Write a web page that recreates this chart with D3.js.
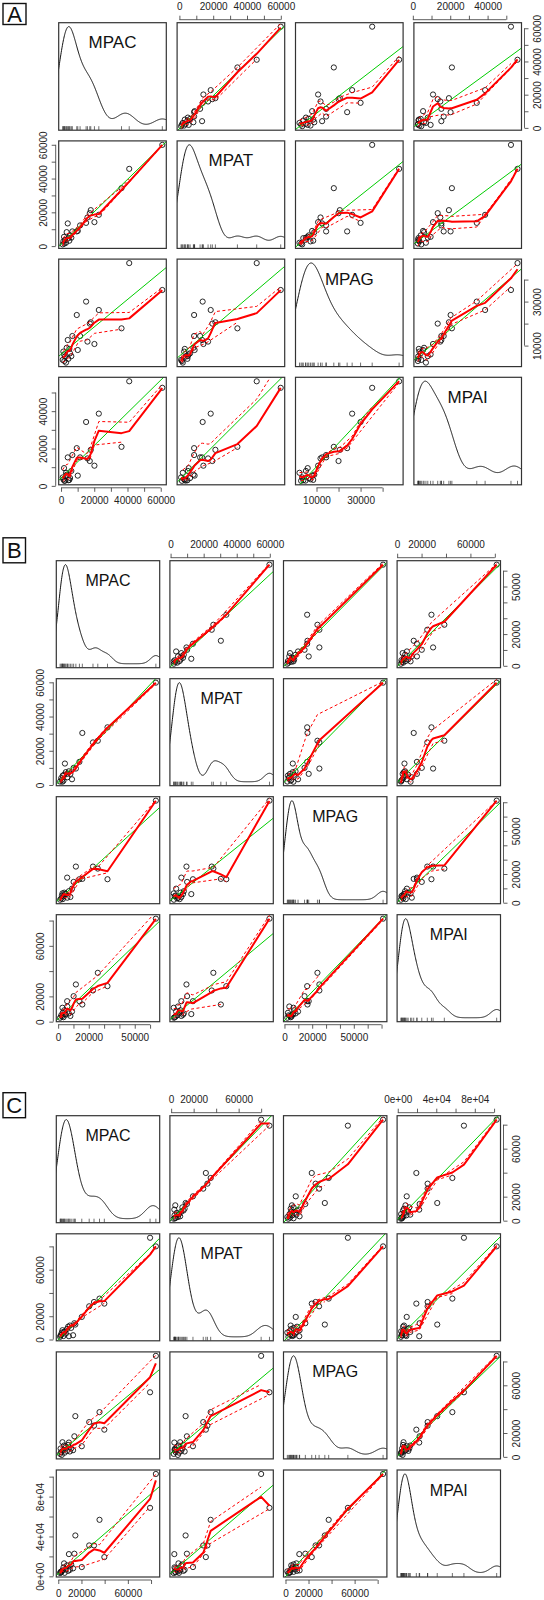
<!DOCTYPE html>
<html><head><meta charset="utf-8">
<script src="https://cdn.jsdelivr.net/npm/d3@7"></script>
<style>body{margin:0;background:#fff}</style>
</head><body>
<svg id="chart" width="544" height="1600"></svg>
<script>
// ---------- DATA ----------
const varNames = ["MPAC", "MPAT", "MPAG", "MPAI"];

// Matrix A
const A_MPAC = [60950, 41040, 36400, 22740, 15090, 17900, 15900, 20100, 17300, 9470, 11470, 6820, 4040, 10080, 1400, 2400, 1000, 3400, 5430, 4430, 3000, 1800, 5000, 2000, 6200];
const A_MPAT = [59940, 45740, 34320, 18520, 13760, 21300, 16960, 14200, 19500, 8700, 12250, 8700, 13430, 9000, 2800, 3700, 1000, 8280, 6330, 4730, 2000, 5500, 3200, 1500, 5000];
const A_MPAG = [35270, 47500, 17860, 26180, 30000, 20590, 11820, 10730, 20000, 23910, 14360, 14360, 12550, 8000, 7270, 5000, 3500, 9000, 6500, 4000, 2270, 6000, 8500, 3000, 5200];
const A_MPAI = [52500, 56000, 20900, 38670, 34200, 19300, 14700, 10800, 13300, 20200, 15250, 16500, 15250, 5480, 3500, 2800, 4500, 6000, 4200, 3000, 7000, 9500, 3200, 2700, 8000];
const A_tickValues = [
  [0, 10000, 20000, 30000, 40000, 50000, 60000],
  [0, 10000, 20000, 30000, 40000, 50000, 60000],
  [10000, 20000, 30000, 40000],
  [0, 10000, 20000, 30000, 40000, 50000]];
const A_tickLabels = [
  ["0", "", "20000", "", "40000", "", "60000"],
  ["0", "", "20000", "", "40000", "", "60000"],
  ["10000", "", "30000", ""],
  ["0", "", "20000", "", "40000", ""]];

// Matrix B
const B_MPAC = [63790, 32210, 25890, 22740, 15790, 13890, 11580, 10100, 9050, 5890, 4420, 1300, 2000, 2500, 3000, 3500, 4000, 5000, 6000, 7000, 2800, 8000];
const B_MPAT = [59800, 33700, 25870, 24890, 30400, 13520, 9600, 10000, 3350, 6500, 12530, 2000, 4000, 3000, 5500, 2500, 6000, 7500, 4500, 8000, 1900, 6500];
const B_MPAG = [71100, 16360, 23780, 25180, 16600, 16360, 25180, 14480, 9790, 17480, 6000, 2070, 3000, 5000, 2500, 4500, 7000, 6000, 3500, 8000, 6500, 4000];
const B_MPAI = [81500, 28100, 38650, 24680, 13570, 16200, 29440, 20170, 8000, 16200, 6000, 3100, 5000, 4000, 7000, 3500, 9000, 5500, 12000, 6500, 11000, 4500];
const B_tickValues = [
  [0, 10000, 20000, 30000, 40000, 50000, 60000],
  [0, 10000, 20000, 30000, 40000, 50000, 60000],
  [0, 10000, 20000, 30000, 40000, 50000, 60000, 70000],
  [0, 20000, 40000, 60000, 80000]];
const B_tickLabels = [
  ["0", "", "20000", "", "", "50000", ""],
  ["0", "", "20000", "", "40000", "", "60000"],
  ["0", "", "20000", "", "", "50000", "", ""],
  ["0", "20000", "", "60000", ""]];

// Matrix C
const C_MPAC = [84170, 79170, 39720, 35560, 30830, 26670, 20280, 14720, 13890, 9170, 12780, 11110, 3610, 1600, 2500, 3000, 4500, 5500, 6500, 7500, 8500, 2000, 5000, 10000];
const C_MPAT = [80000, 87400, 30850, 35130, 32230, 28540, 19400, 12850, 14000, 2830, 3680, 10000, 8000, 2300, 4000, 6000, 3000, 7000, 5000, 9000, 11000, 3500, 6500, 12000];
const C_MPAG = [84700, 54150, 22800, 37500, 26140, 29160, 8900, 34150, 17240, 12000, 5580, 7000, 12250, 2500, 4000, 1600, 6000, 3500, 8000, 5000, 10000, 7000, 9500, 4500];
const C_MPAI = [102700, 68700, 19300, 56700, 31000, 31000, 9300, 41000, 22700, 22300, 8000, 12000, 6000, 3300, 4000, 5000, 9000, 3500, 7000, 11000, 5500, 4500, 13000, 6500];
const C_tickValues = [
  [0, 20000, 40000, 60000, 80000],
  [0, 20000, 40000, 60000, 80000],
  [0, 20000, 40000, 60000, 80000],
  [0, 20000, 40000, 60000, 80000, 100000]];
const C_tickLabels = [
  ["0", "20000", "", "60000", ""],
  ["0", "20000", "", "60000", ""],
  ["0", "20000", "", "60000", ""],
  ["0e+00", "", "4e+04", "", "8e+04", ""]];

// ---------- LAYOUT ----------
const FONT = "'Liberation Sans', Arial, Helvetica, sans-serif";
const matrices = [
  {tag: "A", vars: [A_MPAC, A_MPAT, A_MPAG, A_MPAI], ticks: A_tickValues, labels: A_tickLabels,
   x0: 58.7, colStep: 118.4, w: 107.6, y0: 22.7, rowStep: 118.2, h: 107.5,
   tagBox: [3, 3.5, 23, 21], nameSize: 17},
  {tag: "B", vars: [B_MPAC, B_MPAT, B_MPAG, B_MPAI], ticks: B_tickValues, labels: B_tickLabels,
   x0: 56.3, colStep: 113.6, w: 103.4, y0: 560.7, rowStep: 118, h: 107,
   tagBox: [3, 537.8, 22.5, 25], nameSize: 16},
  {tag: "C", vars: [C_MPAC, C_MPAT, C_MPAG, C_MPAI], ticks: C_tickValues, labels: C_tickLabels,
   x0: 56.3, colStep: 113.6, w: 103.4, y0: 1115.7, rowStep: 118.1, h: 107,
   tagBox: [3, 1092.7, 22.5, 25], nameSize: 16}
];

// ---------- STATS ----------
function solve(M, b) {
  const n = b.length;
  const A = M.map((r, i) => r.concat([b[i]]));
  const scale = Math.abs(M[0][0]) + 1e-300;
  for (let c = 0; c < n; c++) {
    let p = c;
    for (let r = c + 1; r < n; r++) if (Math.abs(A[r][c]) > Math.abs(A[p][c])) p = r;
    if (Math.abs(A[p][c]) < 1e-7 * scale) return null;
    [A[c], A[p]] = [A[p], A[c]];
    for (let r = 0; r < n; r++) {
      if (r === c) continue;
      const f = A[r][c] / A[c][c];
      for (let k = c; k <= n; k++) A[r][k] -= f * A[c][k];
    }
  }
  return A.map((r, i) => r[n] / r[i]);
}

// local polynomial fit at x0: returns [value, slope]
function localFit(xs, ys, rw, x0, q, degree) {
  const n = xs.length;
  const d = xs.map(x => Math.abs(x - x0));
  const ds = d.slice().sort((a, b) => a - b);
  let h = ds[Math.min(q, n) - 1];
  if (h <= 0) h = 1e-9;
  h *= 1.001;
  const S = [0, 0, 0, 0, 0], T = [0, 0, 0];
  for (let j = 0; j < n; j++) {
    const r = d[j] / h;
    if (r >= 1) continue;
    const w = Math.pow(1 - r * r * r, 3) * rw[j];
    if (w <= 0) continue;
    const u = (xs[j] - x0) / h;
    let up = 1;
    for (let k = 0; k < 5; k++) { S[k] += w * up; if (k < 3) T[k] += w * up * ys[j]; up *= u; }
  }
  let c = null;
  if (degree >= 2) c = solve([[S[0], S[1], S[2]], [S[1], S[2], S[3]], [S[2], S[3], S[4]]], [T[0], T[1], T[2]]);
  if (!c && degree >= 1) c = solve([[S[0], S[1]], [S[1], S[2]]], [T[0], T[1]]);
  if (c) return [c[0], c[1] / h];
  return [S[0] > 0 ? T[0] / S[0] : d3.mean(ys), 0];
}

// loess with kd-tree vertices + (monotone-limited) cubic Hermite interpolation, xs sorted ascending
function loess(xs, ys, span, degree, iters) {
  const n = xs.length;
  const q = Math.max(1, Math.floor(n * span));
  const fc = Math.max(1, Math.floor(n * span * 0.2));
  const rng = xs[n - 1] - xs[0];
  const mu = 0.005 * Math.max(rng, 1e-10 * Math.max(Math.abs(xs[0]), Math.abs(xs[n - 1])) + 1e-30);
  const cells = [];
  (function build(l, u, a, b) {
    if (u - l + 1 <= fc || l === u) { cells.push([a, b]); return; }
    const m = Math.floor((l + u) / 2);
    const v = (xs[m] + xs[m + 1]) / 2;
    build(l, m, a, v); build(m + 1, u, v, b);
  })(0, n - 1, xs[0] - mu, xs[n - 1] + mu);
  const verts = Array.from(new Set(cells.flat())).sort((a, b) => a - b);
  let rw = new Array(n).fill(1);
  let fit = new Array(n).fill(0);
  let vfit = null;
  const evalAt = x => {
    const c = cells.find(c => x >= c[0] && x <= c[1]) || cells[cells.length - 1];
    const [a, b] = c;
    const fa = vfit.get(a), fb = vfit.get(b);
    const L = b - a, t = (x - a) / L;
    const s = (fb[0] - fa[0]) / L;
    let ma = 0, mb = 0;
    if (s !== 0) {
      let al = Math.max(0, fa[1] / s), be = Math.max(0, fb[1] / s);
      const t2 = al * al + be * be;
      if (t2 > 9) { const tau = 3 / Math.sqrt(t2); al *= tau; be *= tau; }
      ma = al * s; mb = be * s;
    }
    return fa[0] * (2 * t ** 3 - 3 * t ** 2 + 1) + fb[0] * (-2 * t ** 3 + 3 * t ** 2)
      + L * (ma * (t ** 3 - 2 * t ** 2 + t) + mb * (t ** 3 - t ** 2));
  };
  for (let it = 0; it < iters; it++) {
    vfit = new Map(verts.map(v => [v, localFit(xs, ys, rw, v, q, degree)]));
    fit = xs.map(evalAt);
    if (it < iters - 1) {
      const res = ys.map((y, j) => y - fit[j]);
      const m = d3.median(res.map(Math.abs));
      if (!(m > 0)) break;
      rw = res.map(r => { const u = r / (6 * m); return Math.abs(u) < 1 ? Math.pow(1 - u * u, 2) : 0; });
    }
  }
  return fit;
}

function linreg(xs, ys) {
  const mx = d3.mean(xs), my = d3.mean(ys);
  let sxy = 0, sxx = 0;
  xs.forEach((x, i) => { sxy += (x - mx) * (ys[i] - my); sxx += (x - mx) * (x - mx); });
  const b = sxy / sxx;
  return {a: my - b * mx, b};
}

function density(vals) {
  const n = vals.length;
  const s = d3.deviation(vals);
  const sorted = vals.slice().sort((a, b) => a - b);
  const iqr = d3.quantileSorted(sorted, 0.75) - d3.quantileSorted(sorted, 0.25);
  let lo = Math.min(s, iqr / 1.34);
  if (!(lo > 0)) lo = s;
  const bw = 0.9 * lo * Math.pow(n, -0.2);
  const from = sorted[0] - 3 * bw, to = sorted[n - 1] + 3 * bw;
  const pts = [];
  for (let k = 0; k < 512; k++) {
    const x = from + (to - from) * k / 511;
    let sum = 0;
    for (const v of vals) { const z = (x - v) / bw; sum += Math.exp(-0.5 * z * z); }
    pts.push([x, sum / (n * bw * Math.sqrt(2 * Math.PI))]);
  }
  return pts;
}

// ---------- DRAW ----------
const svg = d3.select("#chart");
svg.append("rect").attr("width", 544).attr("height", 1600).attr("fill", "#fff");
let clipId = 0;

function drawAxis(g, scale, side, ticks, labels, pos) {
  const gen = {top: d3.axisTop, bottom: d3.axisBottom, left: d3.axisLeft, right: d3.axisRight}[side];
  const axis = gen(scale).tickValues(ticks).tickSizeInner(4).tickSizeOuter(0).tickPadding(5.5)
    .tickFormat((v, i) => labels[i]);
  const horiz = side === "top" || side === "bottom";
  const ag = g.append("g")
    .attr("transform", horiz ? `translate(0,${pos})` : `translate(${pos},0)`)
    .attr("font-family", FONT).attr("font-size", 8.5)
    .call(axis);
  ag.select(".domain").remove();
  const a = scale(ticks[0]), b = scale(ticks[ticks.length - 1]);
  ag.append("line")
    .attr("x1", horiz ? a : 0).attr("x2", horiz ? b : 0)
    .attr("y1", horiz ? 0 : a).attr("y2", horiz ? 0 : b)
    .attr("stroke", "#333").attr("stroke-width", 0.8);
  ag.selectAll(".tick line").attr("stroke", "#333").attr("stroke-width", 0.8);
  ag.selectAll(".tick text").attr("fill", "#222");
  if (!horiz) {
    ag.selectAll(".tick text")
      .attr("x", 0).attr("dy", "0.35em").attr("text-anchor", "middle")
      .attr("transform", `translate(${side === "left" ? -12.5 : 12.5},0) rotate(-90)`);
  }
}

matrices.forEach(M => {
  const g = svg.append("g");
  const [tx, ty, tw, th] = M.tagBox;
  g.append("rect").attr("x", tx).attr("y", ty).attr("width", tw).attr("height", th)
    .attr("fill", "none").attr("stroke", "#111").attr("stroke-width", 1.4);
  g.append("text").attr("x", tx + tw / 2).attr("y", ty + th / 2 + 8)
    .attr("text-anchor", "middle").attr("font-family", FONT).attr("font-size", 22)
    .attr("fill", "#111").text(M.tag);

  const domains = M.vars.map(v => {
    const [lo, hi] = d3.extent(v); const r = hi - lo;
    return [lo - 0.04 * r, hi + 0.04 * r];
  });
  const L = j => M.x0 + j * M.colStep;
  const T = i => M.y0 + i * M.rowStep;
  const xS = j => d3.scaleLinear().domain(domains[j]).range([L(j), L(j) + M.w]);
  const yS = i => d3.scaleLinear().domain(domains[i]).range([T(i) + M.h, T(i)]);

  for (let i = 0; i < 4; i++) {
    for (let j = 0; j < 4; j++) {
      const x = xS(j), y = yS(i);
      const id = "clip" + (clipId++);
      g.append("clipPath").attr("id", id).append("rect")
        .attr("x", L(j)).attr("y", T(i)).attr("width", M.w).attr("height", M.h);
      const pg = g.append("g");
      const cg = pg.append("g").attr("clip-path", `url(#${id})`);
      if (i === j) {
        const vals = M.vars[i];
        const dens = density(vals);
        const [mn, mx] = d3.extent(vals);
        const [dmin, dmax] = d3.extent(dens, d => d[1]);
        const line = d3.line().x(d => x(d[0])).y(d => y(mn + d[1] * (mx - mn) / (dmax - dmin)));
        cg.append("path").attr("d", line(dens)).attr("fill", "none")
          .attr("stroke", "#111").attr("stroke-width", 1);
        cg.selectAll("line.rug").data(vals).join("line").attr("class", "rug")
          .attr("x1", d => x(d)).attr("x2", d => x(d))
          .attr("y1", T(i) + M.h).attr("y2", T(i) + M.h - 4)
          .attr("stroke", "#111").attr("stroke-width", 0.6);
        pg.append("text").attr("x", L(j) + M.w / 2).attr("y", T(i) + 25.5)
          .attr("text-anchor", "middle").attr("font-family", FONT)
          .attr("font-size", M.nameSize).attr("fill", "#111").text(varNames[i]);
      } else {
        const xv = M.vars[j], yv = M.vars[i];
        cg.selectAll("circle").data(xv.map((v, k) => [v, yv[k]])).join("circle")
          .attr("cx", d => x(d[0])).attr("cy", d => y(d[1])).attr("r", 2.6)
          .attr("fill", "none").attr("stroke", "#111").attr("stroke-width", 0.9);
        const lr = linreg(xv, yv);
        const [d0, d1] = domains[j];
        cg.append("line")
          .attr("x1", x(d0)).attr("y1", y(lr.a + lr.b * d0))
          .attr("x2", x(d1)).attr("y2", y(lr.a + lr.b * d1))
          .attr("stroke", "#00cd00").attr("stroke-width", 1);
        const order = d3.range(xv.length).sort((a, b) => xv[a] - xv[b]);
        const xs = order.map(k => xv[k]), ys = order.map(k => yv[k]);
        const fit = loess(xs, ys, 0.5, 2, 4);
        const res = ys.map((v, k) => v - fit[k]);
        const line = d3.line().x(d => x(d[0])).y(d => y(d[1]));
        ["pos", "neg"].forEach(s => {
          const idx = d3.range(xs.length).filter(k => s === "pos" ? res[k] > 0 : res[k] < 0);
          if (idx.length < 3) return;
          const sx = idx.map(k => xs[k]);
          const r2 = idx.map(k => res[k] * res[k]);
          const sf = loess(sx, r2, 0.5, 0, 4);
          const pts = idx.map((k, m) => [xs[k], fit[k] + (s === "pos" ? 1 : -1) * Math.sqrt(Math.max(0, sf[m]))]);
          cg.append("path").attr("d", line(pts)).attr("fill", "none")
            .attr("stroke", "#ff0000").attr("stroke-width", 1).attr("stroke-dasharray", "3,2.5");
        });
        cg.append("path").attr("d", line(xs.map((v, k) => [v, fit[k]]))).attr("fill", "none")
          .attr("stroke", "#ff0000").attr("stroke-width", 2).attr("stroke-linejoin", "round");
      }
      pg.append("rect").attr("x", L(j)).attr("y", T(i)).attr("width", M.w).attr("height", M.h)
        .attr("fill", "none").attr("stroke", "#333").attr("stroke-width", 1.2);
    }
  }
  [1, 3].forEach(j => drawAxis(g, xS(j), "top", M.ticks[j], M.labels[j], T(0) - 3));
  [0, 2].forEach(j => drawAxis(g, xS(j), "bottom", M.ticks[j], M.labels[j], T(3) + M.h + 3));
  [1, 3].forEach(i => drawAxis(g, yS(i), "left", M.ticks[i], M.labels[i], L(0) - 3));
  [0, 2].forEach(i => drawAxis(g, yS(i), "right", M.ticks[i], M.labels[i], L(3) + M.w + 3));
});
</script>
</body></html>
